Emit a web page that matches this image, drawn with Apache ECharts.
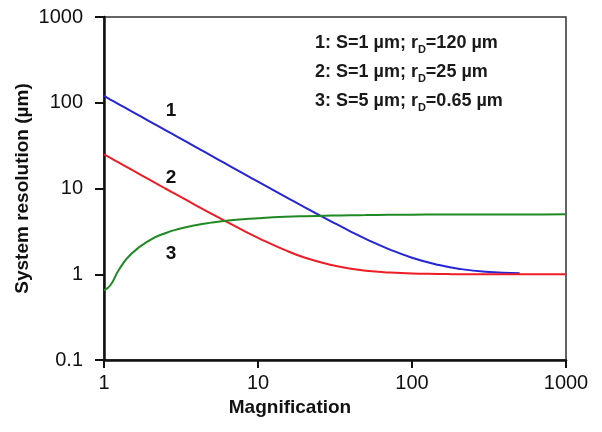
<!DOCTYPE html>
<html>
<head>
<meta charset="utf-8">
<script src="https://cdn.jsdelivr.net/npm/echarts@6/dist/echarts.min.js"></script>
<style>
  html, body { margin: 0; padding: 0; background: #fff; }
  #chart { width: 602px; height: 432px; }
</style>
</head>
<body>
<div id="chart"></div>
<script>
// magnification values
var magnification = [1, 1.1, 1.25, 1.5, 2, 2.5, 3, 4, 5, 6, 8, 10, 15, 20, 30, 40, 50, 70, 100, 150, 200, 300, 500, 700, 1000];
// curve 1: S=1 um; rD=120 um (stops near M=500)
var curve1 = [120, 109, 96, 80, 60, 48, 40, 30, 24, 20, 15.0, 12.0, 8.05, 6.07, 4.12, 3.15, 2.59, 1.98, 1.56, 1.28, 1.16, 1.07, 1.03, null, null];
// curve 2: S=1 um; rD=25 um
var curve2 = [25, 22.7, 20, 16.7, 12.5, 10.0, 8.36, 6.29, 5.06, 4.25, 3.25, 2.66, 1.91, 1.57, 1.28, 1.16, 1.10, 1.05, 1.02, 1.01, 1.0, 1.0, 1.0, 1.0, 1.0];
// curve 3: S=5 um; rD=0.65 um
var curve3 = [0.65, 0.745, 1.13, 1.72, 2.52, 3.01, 3.34, 3.75, 4.0, 4.17, 4.38, 4.5, 4.67, 4.75, 4.83, 4.88, 4.9, 4.93, 4.95, 4.97, 4.98, 4.98, 4.99, 4.99, 5.0];
var legendLines = [
  ["1: S=1 µm; r", "D", "=120 µm"],
  ["2: S=1 µm; r", "D", "=25 µm"],
  ["3: S=5 µm; r", "D", "=0.65 µm"]
];
// curve number labels: [label, magnification, resolution]
var curveLabels = [["1", 2.72, 80], ["2", 2.72, 13.4], ["3", 2.72, 1.75]];

var font = "Liberation Sans, Arial, sans-serif";
var chart = echarts.init(document.getElementById("chart"));

function pairs(ys) {
  var out = [];
  for (var i = 0; i < magnification.length; i++) {
    if (ys[i] != null) out.push([magnification[i], ys[i]]);
  }
  return out;
}

function numberMark(n) {
  var l = curveLabels[n];
  return {
    symbol: "circle",
    symbolSize: 0,
    silent: true,
    label: {
      show: true,
      position: "inside",
      formatter: l[0],
      color: "#111",
      fontFamily: font,
      fontWeight: "bold",
      fontSize: 19
    },
    data: [{ coord: [l[1], l[2]] }]
  };
}

var legendGraphics = legendLines.map(function (line, i) {
  return {
    type: "text",
    left: 315,
    top: 34 + i * 29,
    style: {
      text: "{a|" + line[0] + "}{s|" + line[1] + "}{a|" + line[2] + "}",
      rich: {
        a: { fontFamily: font, fontSize: 18, fontWeight: "bold", fill: "#1a1a1a", verticalAlign: "bottom" },
        s: { fontFamily: font, fontSize: 11, fontWeight: "bold", fill: "#1a1a1a", verticalAlign: "bottom", padding: [0, 0, -3, 0] }
      }
    }
  };
});

function plainNumber(v) {
  return String(v);
}

var option = {
  animation: false,
  textStyle: { fontFamily: font },
  grid: {
    show: true,
    left: 104,
    right: 36,
    top: 17,
    bottom: 72,
    borderColor: "#333",
    borderWidth: 1.5
  },
  xAxis: {
    type: "log",
    logBase: 10,
    min: 1,
    max: 1000,
    name: "Magnification",
    nameLocation: "middle",
    nameGap: 38,
    nameTextStyle: {
      fontFamily: font,
      fontWeight: "bold",
      fontSize: 19,
      color: "#111",
      padding: [0, 90, 0, 0]
    },
    axisLine: { lineStyle: { color: "#111", width: 2.5 } },
    axisTick: { show: true, length: 8, lineStyle: { color: "#111", width: 2 } },
    minorTick: { show: false },
    splitLine: { show: false },
    axisLabel: { margin: 13, fontSize: 20, color: "#111", fontFamily: font, formatter: plainNumber }
  },
  yAxis: {
    type: "log",
    logBase: 10,
    min: 0.1,
    max: 1000,
    name: "System resolution (µm)",
    nameLocation: "middle",
    nameGap: 72,
    nameMoveOverlap: false,
    nameTextStyle: {
      fontFamily: font,
      fontWeight: "bold",
      fontSize: 19,
      color: "#111"
    },
    axisLine: { lineStyle: { color: "#111", width: 2.5 } },
    axisTick: { show: true, length: 9, lineStyle: { color: "#111", width: 2 } },
    minorTick: { show: false },
    splitLine: { show: false },
    axisLabel: { margin: 21, fontSize: 20, color: "#111", fontFamily: font, formatter: plainNumber }
  },
  graphic: legendGraphics,
  series: [
    {
      name: "1",
      type: "line",
      data: pairs(curve1),
      smooth: true,
      showSymbol: false,
      color: "#2424d8",
      lineStyle: { width: 2 },
      markPoint: numberMark(0)
    },
    {
      name: "2",
      type: "line",
      data: pairs(curve2),
      smooth: true,
      showSymbol: false,
      color: "#ee1c24",
      lineStyle: { width: 2 },
      markPoint: numberMark(1)
    },
    {
      name: "3",
      type: "line",
      data: pairs(curve3),
      smooth: true,
      showSymbol: false,
      color: "#1f8a24",
      lineStyle: { width: 2 },
      markPoint: numberMark(2)
    }
  ]
};
chart.setOption(option);
</script>
</body>
</html>
